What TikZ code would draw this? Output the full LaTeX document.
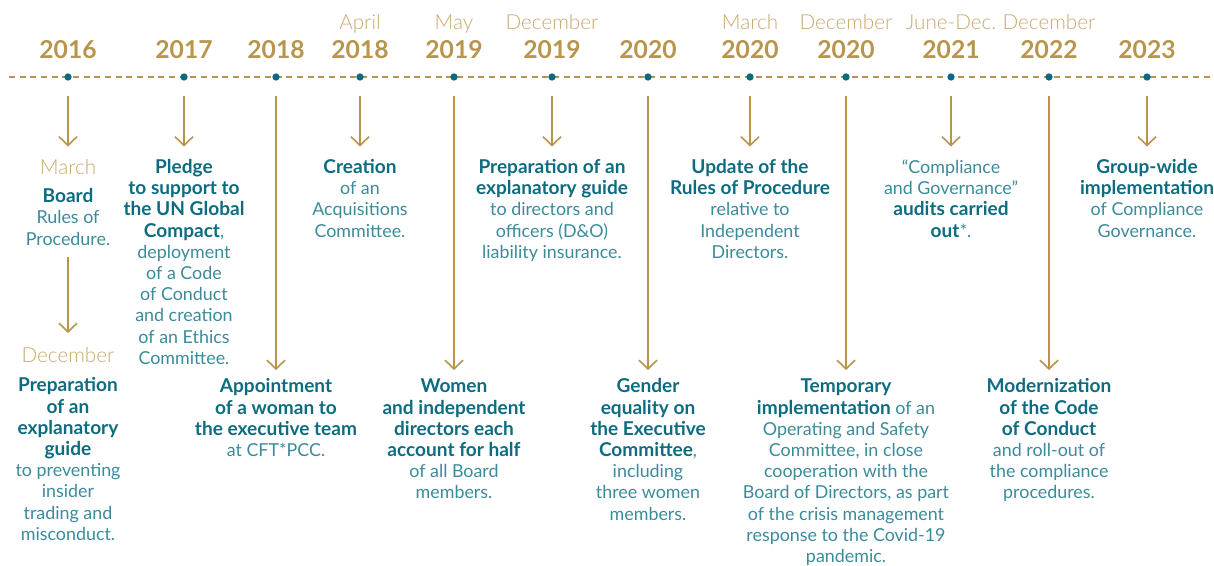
\documentclass[tikz,border=0pt]{standalone}
\usepackage{fontspec}
\setmainfont{Lato}
\newfontfamily\monthfont{Lato Light}
\usetikzlibrary{arrows.meta}
\definecolor{gold}{HTML}{B8954C}
\definecolor{goldlight}{HTML}{C9A86E}
\definecolor{tealdot}{HTML}{0B6A7F}
\definecolor{tealbold}{HTML}{0D6C80}
\definecolor{tealreg}{HTML}{3B8B9B}
\newcommand{\bt}[1]{{\fontsize{14.3}{15.9}\selectfont\bfseries\color{tealbold}#1}}
\newcommand{\colblock}[1]{\begin{tabular}[t]{@{}c@{}}#1\end{tabular}}
\tikzset{
  timeline/.style={draw=gold, line width=0.8pt, dash pattern=on 4.5pt off 3.5pt},
  tdot/.style={circle, fill=tealdot, inner sep=0pt, minimum size=5.5pt},
  year/.style={font=\bfseries\fontsize{18.5}{20}\selectfont, text=gold, anchor=base, inner sep=0pt},
  month/.style={font=\monthfont\fontsize{15.5}{17}\selectfont, text=goldlight, anchor=base, inner sep=0pt},
  body/.style={font=\fontsize{13.4}{15.9}\selectfont, text=tealreg, anchor=base, inner sep=0pt},
  arr/.style={draw=gold, line width=1.2pt, -{Straight Barb[length=6.5pt,width=13.5pt]}}
}
\begin{document}
\begin{tikzpicture}[x=0.75pt,y=-0.75pt]
\useasboundingbox (0,0) rectangle (1214,566);
% timeline
\coordinate (tlS) at (9,77);
\coordinate (tlE) at (1214,77);
\draw[timeline] (tlS) -- (tlE);
\foreach \n/\x in {a/68,b/184,c/276,d/360,e/454,f/552,g/648,h/750,i/846,j/951,k/1049,l/1147}{
  \node[tdot] (dot\n) at (\x,77) {};
  \coordinate (s\n) at (\x,96);
}
% years
\node[year] (ya) at (68,58.3) {2016};
\node[year] (yb) at (184,58.3) {2017};
\node[year] (yc) at (276,58.3) {2018};
\node[year] (yd) at (360,58.3) {2018};
\node[year] (ye) at (454,58.3) {2019};
\node[year] (yf) at (552,58.3) {2019};
\node[year] (yg) at (648,58.3) {2020};
\node[year] (yh) at (750,58.3) {2020};
\node[year] (yi) at (846,58.3) {2020};
\node[year] (yj) at (951,58.3) {2021};
\node[year] (yk) at (1049,58.3) {2022};
\node[year] (yl) at (1147,58.3) {2023};
% months
\node[month] (md) at (360,29.3) {April};
\node[month] (me) at (454,29.3) {May};
\node[month] (mf) at (552,29.3) {December};
\node[month] (mh) at (750,29.3) {March};
\node[month] (mi) at (846,29.3) {December};
\node[month] (mj) at (951,29.3) {June-Dec.};
\node[month] (mk) at (1049,29.3) {December};
% arrow ends
\foreach \n/\x in {a/68,b/184,d/360,f/552,h/750,j/951,l/1147}{
  \coordinate (e\n) at (\x,146.5);
}
\foreach \n/\x in {c/276,e/454,g/648,i/846,k/1049}{
  \coordinate (e\n) at (\x,370);
}
\foreach \n in {a,b,c,d,e,f,g,h,i,j,k,l}{
  \draw[arr] (s\n) -- (e\n);
}
% 2016
\node[month] (ma1) at (68,174.3) {March};
\node[body] (ta1) at (68,202.7) {\colblock{\bt{Board}\\Rules of\\Procedure.}};
\coordinate (sa2) at (68,257);
\coordinate (ea2) at (68,333);
\draw[arr] (sa2) -- (ea2);
\node[month] (ma2) at (68,363) {December};
\node[body] (ta2) at (68,392) {\colblock{\bt{Preparation}\\\bt{of an}\\\bt{explanatory}\\\bt{guide}\\to preventing\\insider\\trading and\\misconduct.}};
% 2017
\node[body] (tb) at (184,173.5) {\colblock{\bt{Pledge}\\\bt{to support to}\\\bt{the UN Global}\\\bt{Compact},\\deployment\\of a Code\\of Conduct\\and creation\\of an Ethics\\Committee.}};
% 2018
\node[body] (tc) at (276,393) {\colblock{\bt{Appointment}\\\bt{of a woman to}\\\bt{the executive team}\\at CFT*PCC.}};
% April 2018
\node[body] (td) at (360,173.5) {\colblock{\bt{Creation}\\of an\\Acquisitions\\Committee.}};
% May 2019
\node[body] (te) at (454,393) {\colblock{\bt{Women}\\\bt{and independent}\\\bt{directors each}\\\bt{account for half}\\of all Board\\members.}};
% Dec 2019
\node[body] (tf) at (552,173.5) {\colblock{\bt{Preparation of an}\\\bt{explanatory guide}\\to directors and\\officers (D\&O)\\liability insurance.}};
% 2020
\node[body] (tg) at (648,393) {\colblock{\bt{Gender}\\\bt{equality on}\\\bt{the Executive}\\\bt{Committee},\\including\\three women\\members.}};
% March 2020
\node[body] (th) at (750,173.5) {\colblock{\bt{Update of the}\\\bt{Rules of Procedure}\\relative to\\Independent\\Directors.}};
% Dec 2020
\node[body] (ti) at (846,393) {\colblock{\bt{Temporary}\\\bt{implementation} of an\\Operating and Safety\\Committee, in close\\cooperation with the\\Board of Directors, as part\\of the crisis management\\response to the Covid-19\\pandemic.}};
% 2021
\node[body] (tj) at (951,173.5) {\colblock{“Compliance\\and Governance”\\\bt{audits carried}\\\bt{out}*.}};
% Dec 2022
\node[body] (tk) at (1049,393) {\colblock{\bt{Modernization}\\\bt{of the Code}\\\bt{of Conduct}\\and roll-out of\\the compliance\\procedures.}};
% 2023
\node[body] (tl) at (1147,173.5) {\colblock{\bt{Group-wide}\\\bt{implementation}\\of Compliance\\Governance.}};
\end{tikzpicture}
\end{document}
